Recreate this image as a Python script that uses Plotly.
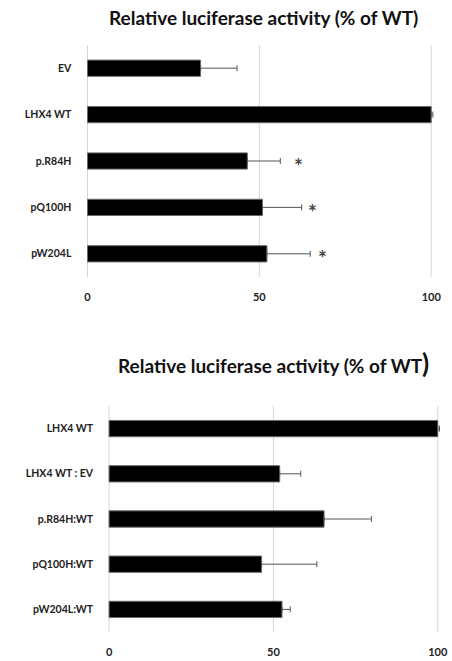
import plotly.graph_objects as go

# Panel A: single constructs
cats_a = ["EV", "LHX4 WT", "p.R84H", "pQ100H", "pW204L"]
vals_a = [32.9, 100.0, 46.5, 50.9, 52.2]
err_a = [10.6, 0.5, 9.6, 11.4, 12.6]
star_cats = ["p.R84H", "pQ100H", "pW204L"]
star_x = [61.3, 65.4, 68.4]

# Panel B: co-transfections with WT
cats_b = ["LHX4 WT", "LHX4 WT : EV", "p.R84H:WT", "pQ100H:WT", "pW204L:WT"]
vals_b = [100.0, 51.9, 65.4, 46.4, 52.6]
err_b = [0.5, 6.4, 14.4, 16.8, 2.5]

x_ticks = [0, 50, 100]

FONT = "Lato"
W, H = 452, 661
PAD = 1.5  # extra axis room on both ends


def px_x(p):
    return p / W


def px_y(p):
    return 1 - p / H


fig = go.Figure()

# the lower arm is hidden behind the black bar, only its cap shows at the bar end
err_style = dict(type="data", color="#555555", thickness=1, width=3)

fig.add_trace(go.Bar(
    x=vals_a, y=cats_a, orientation="h", width=0.35,
    marker=dict(color="#000000", line=dict(color="#6a6a6a", width=1)),
    error_x=dict(array=err_a, arrayminus=[0] * len(err_a), **err_style),
    xaxis="x", yaxis="y", showlegend=False, hoverinfo="skip",
))
fig.add_trace(go.Bar(
    x=vals_b, y=cats_b, orientation="h", width=0.36,
    marker=dict(color="#000000", line=dict(color="#6a6a6a", width=1)),
    error_x=dict(array=err_b, arrayminus=[0] * len(err_b), **err_style),
    xaxis="x2", yaxis="y2", showlegend=False, hoverinfo="skip",
))

xaxis_common = dict(
    range=[-PAD, 100 + PAD], tickvals=x_ticks, ticktext=[str(t) for t in x_ticks],
    showgrid=False, zeroline=False, showline=False, ticks="",
    tickfont=dict(family=FONT, size=11, color="#222222", weight="bold"),
    ticklabelstandoff=12, fixedrange=True,
)
yaxis_common = dict(
    autorange="reversed", showgrid=False, zeroline=False, showline=False,
    ticks="", tickfont=dict(family=FONT, size=10.5, color="#222222", weight="bold"),
    ticklabelstandoff=10, fixedrange=True,
)

# vertical gridlines at each tick, behind the bars
shapes = []
for xr, yr in (("x", "y domain"), ("x2", "y2 domain")):
    for t in x_ticks:
        shapes.append(dict(
            type="line", xref=xr, yref=yr, x0=t, x1=t, y0=0, y1=1,
            line=dict(color="#d6d6d6", width=1), layer="below",
        ))

annotations = [
    dict(text="<b>Relative luciferase activity (% of WT)</b>",
         x=px_x(266), y=px_y(17), xref="paper", yref="paper",
         xanchor="center", yanchor="middle", showarrow=False,
         font=dict(family=FONT, size=19, color="#111111")),
    dict(text="<b>Relative luciferase activity (% of WT<span style='font-size:26px'>)</span></b>",
         x=px_x(277), y=px_y(363), xref="paper", yref="paper",
         xanchor="center", yanchor="middle", showarrow=False,
         font=dict(family=FONT, size=19, color="#111111")),
]
# significance marks next to the mutant bars
for sx, sc in zip(star_x, star_cats):
    annotations.append(dict(
        text="<b>*</b>", x=sx, y=sc, xref="x", yref="y", showarrow=False,
        xanchor="center", yanchor="middle", yshift=-4,
        font=dict(family=FONT, size=21, color="#444444"),
    ))

# plot areas: 3.48 px/unit (top) and 3.32 px/unit (bottom)
top_l, top_r = 88.5 - PAD * 3.48, 436 + PAD * 3.48
bot_l, bot_r = 110.3 - PAD * 3.32, 442.7 + PAD * 3.32

fig.update_layout(
    width=W, height=H,
    margin=dict(l=0, r=0, t=0, b=0),
    paper_bgcolor="white", plot_bgcolor="white",
    xaxis=dict(domain=[px_x(top_l), px_x(top_r)], anchor="y", **xaxis_common),
    yaxis=dict(domain=[px_y(277), px_y(45)], anchor="x", **yaxis_common),
    xaxis2=dict(domain=[px_x(bot_l), px_x(bot_r)], anchor="y2", **xaxis_common),
    yaxis2=dict(domain=[px_y(632), px_y(406)], anchor="x2", **yaxis_common),
    shapes=shapes,
    annotations=annotations,
)

fig.write_html("out.html")
